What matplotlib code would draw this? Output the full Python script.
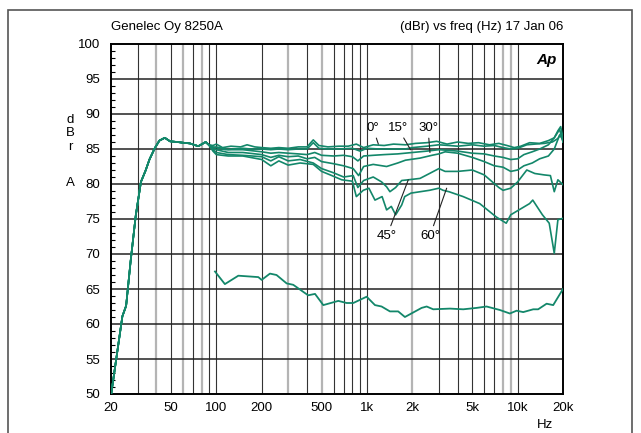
import numpy as np
import matplotlib.pyplot as plt
from matplotlib.patches import Rectangle

plt.rcParams['font.family'] = ['Liberation Sans', 'DejaVu Sans']

# shared low-frequency part (all angles)
f_lo = [20, 23.8, 25.2, 27, 29.2, 31.6, 33.9, 36, 39, 41.9, 45.5, 49.3, 55, 60, 66.7, 75.9, 85, 89]
db_lo = [49.8, 61.1, 62.6, 69, 75.5, 80.3, 81.9, 83.5, 85.1, 86.2, 86.6, 86.1, 86.0, 85.9, 85.8, 85.4, 86.0, 85.6]

f_0 = [95, 100, 110, 125, 145, 160, 180, 200, 230, 260, 300, 350, 400, 440, 480, 550, 650, 750, 850, 950,
       1100, 1300, 1500, 1800, 2100, 2500, 2900, 3400, 4000, 4700, 5500, 6500, 7500, 8500, 9500, 10500,
       12000, 14000, 16000, 17500, 18500, 19300, 20000]
db_0 = [85.5, 85.7, 85.2, 85.4, 85.3, 85.6, 85.3, 85.2, 85.1, 85.2, 85.1, 85.3, 85.3, 86.3, 85.5, 85.3, 85.4, 85.4, 85.7, 85.2,
        85.6, 85.5, 85.7, 85.6, 85.8, 85.9, 86.1, 85.7, 86.0, 85.8, 85.9, 85.6, 85.8, 85.5, 85.2, 85.4,
        85.9, 85.8, 86.2, 86.6, 87.6, 88.2, 86.6]

f_15 = [95, 100, 115, 130, 150, 170, 200, 230, 260, 300, 350, 400, 440, 480, 550, 650, 800, 900, 1000, 1200,
        1500, 1800, 2000, 2500, 3000, 3500, 4000, 5000, 6000, 7000, 8000, 9000, 10000, 11500, 13000, 15000,
        17000, 18500, 19500, 20000]
db_15 = [85.3, 85.2, 84.9, 85.0, 85.1, 85.0, 85.0, 84.9, 85.0, 84.9, 85.0, 85.0, 85.9, 85.1, 85.0, 85.0, 85.1, 84.7, 85.1, 85.0,
         85.0, 85.0, 85.2, 85.4, 85.6, 85.5, 85.4, 85.6, 85.4, 85.5, 85.2, 85.0, 85.1, 85.6, 85.7, 85.8,
         86.0, 86.5, 87.3, 86.0]

f_30 = [95, 100, 120, 150, 200, 230, 260, 300, 350, 400, 450, 500, 600, 700, 800, 870, 950, 1100, 1300, 1600,
        2000, 2500, 3000, 3500, 4000, 5000, 6000, 7000, 8000, 9000, 10000, 11000, 12500, 14000, 16000,
        17500, 19000, 20000]
db_30 = [85.2, 85.3, 84.9, 84.9, 84.6, 84.4, 84.5, 84.4, 84.3, 84.2, 84.5, 84.1, 84.0, 84.1, 83.9, 83.3, 84.0, 84.1, 84.2, 84.3,
         84.5, 84.7, 84.9, 84.8, 84.7, 84.4, 84.3, 84.0, 83.8, 83.5, 83.6, 84.2, 84.6, 85.0, 85.6,
         86.6, 87.8, 86.0]

# unlabelled trace between 30 and 45 degrees
f_c = [95, 100, 120, 150, 200, 230, 260, 300, 350, 400, 450, 500, 600, 700, 810, 880, 950, 1100, 1350, 1600,
       1800, 2250, 2700, 3000, 3300, 4000, 5000, 6000, 7000, 8000, 9000, 10000, 11000, 12500, 14000, 16000,
       17500, 19000, 20000]
db_c = [85.0, 84.9, 84.5, 84.5, 84.2, 83.8, 84.1, 83.9, 84.0, 83.6, 83.8, 83.2, 82.9, 82.6, 82.2, 81.2, 82.5, 82.8, 82.5, 83.0,
        83.4, 83.7, 84.1, 84.3, 84.6, 84.4, 83.8, 83.2, 82.6, 82.4, 81.8, 82.0, 82.6, 83.0, 83.6, 84.0,
        85.0, 87.0, 86.3]

f_45 = [95, 100, 120, 150, 200, 230, 260, 300, 360, 440, 500, 600, 700, 810, 870, 950, 1100, 1250, 1350, 1420,
        1550, 1700, 1880, 2250, 2600, 3000, 3300, 4000, 5000, 6000, 7500, 8000, 9000, 10000, 11500, 13000,
        15000, 16500, 17500, 18500, 20000]
db_45 = [84.9, 84.5, 84.2, 84.1, 83.9, 83.3, 83.9, 83.3, 83.5, 83.0, 82.2, 81.6, 81.0, 81.2, 79.5, 80.5, 81.0, 80.3, 79.6, 78.9,
         79.5, 80.5, 80.6, 80.8, 81.5, 82.2, 81.8, 81.8, 82.0, 81.3, 79.5, 79.1, 79.4, 80.3, 82.0, 81.5,
         81.3, 81.2, 78.9, 80.6, 79.9]

f_60 = [95, 100, 120, 150, 200, 230, 260, 300, 360, 440, 500, 570, 680, 800, 850, 945, 1030, 1130, 1260, 1350,
        1450, 1550, 1700, 1780, 1960, 2600, 3000, 3200, 3500, 4350, 5600, 7200, 8400, 9000, 10200, 12000,
        12600, 14600, 16200, 17500, 18500, 20000]
db_60 = [84.7, 84.2, 84.0, 84.0, 83.5, 82.6, 83.3, 82.7, 83.0, 82.8, 81.8, 81.3, 80.6, 80.4, 78.2, 79.1, 79.4, 77.7, 78.2, 76.3,
         76.8, 75.6, 77.0, 78.2, 78.7, 79.1, 79.4, 79.1, 78.9, 78.2, 77.2, 75.3, 74.4, 75.6, 76.3, 77.2,
         77.7, 75.6, 74.4, 70.1, 74.9, 75.1]

# lower trace
f_low = [98, 114, 140, 190, 200, 227, 251, 293, 324, 407, 452, 513, 645, 733, 811, 995, 1130, 1250, 1420, 1611,
         1786, 2305, 2490, 2752, 3554, 4355, 5340, 6220, 7620, 8880, 9840, 10890, 12690, 13680, 15570, 17220, 20000]
db_low = [67.5, 65.7, 66.9, 66.7, 66.3, 67.2, 67.0, 65.8, 65.6, 64.1, 64.3, 62.7, 63.3, 63.0, 63.0, 63.9, 62.7, 62.5, 61.8, 61.8,
          61.0, 62.3, 62.5, 62.1, 62.2, 62.1, 62.3, 62.5, 62.0, 61.5, 61.9, 61.7, 62.1, 62.1, 62.9, 62.7, 65.0]

xticks = [20, 50, 100, 200, 500, 1000, 2000, 5000, 10000, 20000]
xlabels = ['20', '50', '100', '200', '500', '1k', '2k', '5k', '10k', '20k']
grid_dark = [30, 50, 70, 90, 100, 200, 400, 600, 700, 800, 900, 1000, 3000, 4000, 5000, 6000, 7000, 10000]
grid_grey = [40, 60, 80, 300, 500, 2000, 8000, 9000]

green = '#13876a'

fig = plt.figure(figsize=(6.41, 4.33), dpi=100)
ax = fig.add_axes([111/641, 39/433, 452/641, 350/433])

for g in grid_grey:
    ax.axvline(g, color='#b4b4b4', lw=1.6, zorder=1)
for g in grid_dark:
    ax.axvline(g, color='#333333', lw=0.8, zorder=1)
for v in range(55, 100, 5):
    ax.axhline(v, color='#222222', lw=1.1, zorder=1)

for fr, db in [(f_0, db_0), (f_15, db_15), (f_30, db_30), (f_c, db_c), (f_45, db_45), (f_60, db_60)]:
    ax.plot(f_lo + fr, db_lo + db, color=green, lw=1.2, zorder=3)
ax.plot(f_low, db_low, color=green, lw=1.3, zorder=3)

ax.set_xscale('log')
ax.set_xlim(20, 20000)
ax.set_ylim(50, 100)
ax.set_xticks(xticks)
ax.set_xticklabels(xlabels)
ax.xaxis.set_minor_locator(plt.NullLocator())
ax.set_yticks(range(50, 101, 5))
ax.set_yticks(range(50, 101), minor=True)
ax.tick_params(axis='y', which='major', length=0, labelsize=9.5, pad=8)
ax.tick_params(axis='y', which='minor', direction='in', length=3, width=0.8)
ax.tick_params(axis='x', length=0, labelsize=9.5, pad=6)
for s in ax.spines.values():
    s.set_linewidth(1.4)

# angle notes
line = dict(arrowstyle='-', color='#222222', lw=0.8, shrinkA=1, shrinkB=0)
ax.annotate('0°', xy=(1190, 85.7), xytext=(1096, 88.0), fontsize=9.5, ha='center', va='center', arrowprops=line)
ax.annotate('15°', xy=(1946, 84.9), xytext=(1604, 88.0), fontsize=9.5, ha='center', va='center', arrowprops=line)
ax.annotate('30°', xy=(2618, 84.5), xytext=(2540, 88.0), fontsize=9.5, ha='center', va='center', arrowprops=line)
ax.annotate('45°', xy=(1880, 80.6), xytext=(1357, 72.6), fontsize=9.5, ha='center', va='center', arrowprops=line)
ax.annotate('60°', xy=(3380, 79.4), xytext=(2618, 72.6), fontsize=9.5, ha='center', va='center', arrowprops=line)

ax.text(0.985, 0.955, 'Ap', transform=ax.transAxes, ha='right', va='center',
        fontsize=11, fontweight='bold', style='italic')

fig.text(111/641, 1 - 27/433, 'Genelec Oy 8250A', ha='left', va='center', fontsize=9.5)
fig.text(563/641, 1 - 27/433, '(dBr) vs freq (Hz) 17 Jan 06', ha='right', va='center', fontsize=9.5)
fig.text(545/641, 1 - 425/433, 'Hz', ha='center', va='center', fontsize=9.5)
for ch, yp in [('d', 120), ('B', 133), ('r', 147), ('A', 183)]:
    fig.text(70/641, 1 - yp/433, ch, ha='center', va='center', fontsize=9.5)

fig.patches.append(Rectangle((8/641, -0.2), 624/641, 1.2 - 10/433, transform=fig.transFigure,
                             fill=False, edgecolor='#555555', lw=1.2))

plt.savefig('out.png', dpi=100)
